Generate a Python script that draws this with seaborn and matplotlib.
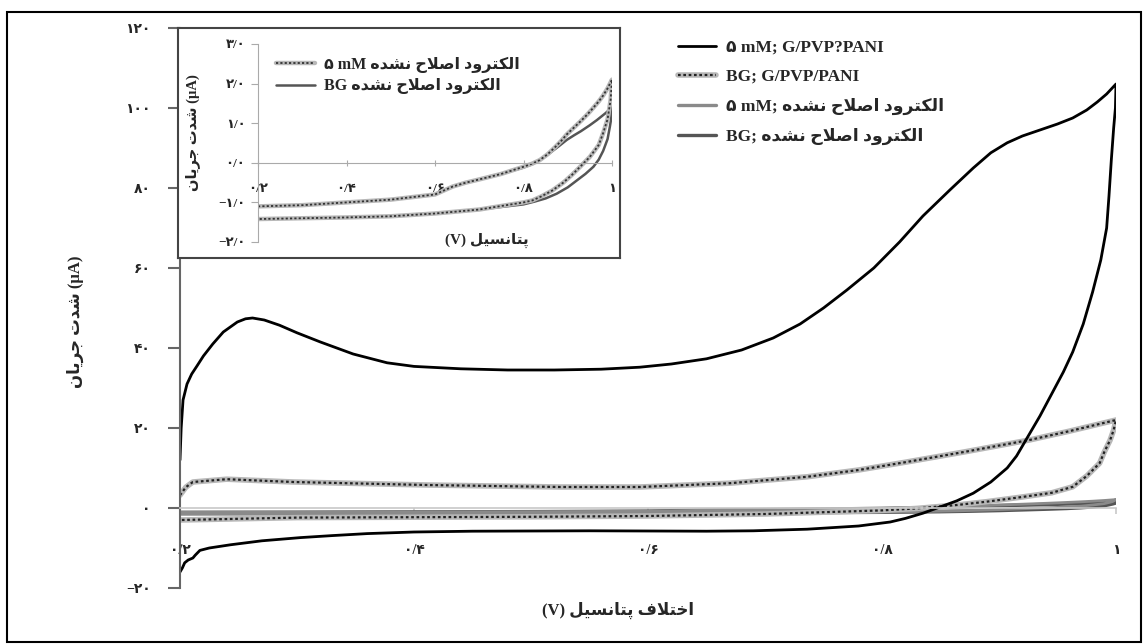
import matplotlib
matplotlib.use("Agg")
import matplotlib.pyplot as plt
import seaborn as sns
import pandas as pd
from matplotlib.lines import Line2D
from matplotlib.patches import Rectangle
from matplotlib.legend_handler import HandlerTuple

# --- data ----------------------------------------------------------------
# 5 mM on G/PVP/PANI (black)
pani5_x_fwd = [0.2, 0.201, 0.2026, 0.206, 0.21, 0.2145, 0.22, 0.228, 0.237, 0.249, 0.256, 0.262,
               0.272, 0.285, 0.30, 0.32, 0.348, 0.377, 0.40, 0.44, 0.48, 0.52, 0.56, 0.593,
               0.62, 0.65, 0.68, 0.707, 0.73, 0.75, 0.77, 0.793, 0.815, 0.835, 0.858, 0.878,
               0.893, 0.907, 0.92, 0.935, 0.95, 0.963, 0.975, 0.984, 0.992, 1.0]
pani5_y_fwd = [12, 20, 27, 31, 33.5, 35.5, 38, 41, 44, 46.5, 47.3, 47.5,
               47, 45.7, 43.8, 41.5, 38.5, 36.3, 35.4, 34.8, 34.5, 34.5, 34.7, 35.2,
               36, 37.3, 39.5, 42.5, 46, 50, 54.5, 60, 66.5, 73, 79.5, 85,
               88.8, 91.3, 93, 94.5, 96, 97.5, 99.5, 101.5, 103.5, 106]
pani5_x_rev = [1.0, 0.9995, 0.998, 0.996, 0.994, 0.992, 0.987, 0.98, 0.972, 0.963, 0.955,
               0.945, 0.935, 0.926, 0.915, 0.907, 0.893, 0.878, 0.864, 0.85, 0.835, 0.82,
               0.807, 0.78, 0.736, 0.69, 0.65, 0.55, 0.45, 0.40, 0.36, 0.33, 0.303, 0.27,
               0.243, 0.225, 0.217, 0.213, 0.211, 0.207, 0.204, 0.202, 0.2]
pani5_y_rev = [106, 100, 95, 87, 78, 70, 62, 54, 46, 39, 34,
               28.5, 23, 18.5, 13, 10, 6.5, 3.7, 1.8, 0.3, -1.3, -2.6,
               -3.5, -4.5, -5.3, -5.7, -5.8, -5.7, -5.8, -6, -6.4, -6.9, -7.4, -8.2,
               -9.2, -10, -10.6, -11.8, -12.5, -13, -13.7, -15, -16]

# background on G/PVP/PANI (hatched)
panibg_x_fwd = [0.2, 0.205, 0.211, 0.24, 0.297, 0.411, 0.525, 0.593, 0.67, 0.736, 0.78, 0.821,
                0.87, 0.926, 0.96, 1.0]
panibg_y_fwd = [3.2, 5.2, 6.5, 7.2, 6.5, 5.75, 5.25, 5.25, 6.2, 7.8, 9.5, 11.5,
                14, 17, 19.2, 22]
panibg_x_rev = [1.0, 0.998, 0.995, 0.99, 0.986, 0.975, 0.963, 0.945, 0.921, 0.89, 0.864, 0.83,
                0.8, 0.7, 0.6, 0.5, 0.4, 0.3, 0.2]
panibg_y_rev = [22, 19.5, 17, 14, 11.2, 8, 5.3, 3.8, 2.8, 1.6, 0.75, -0.1,
                -0.6, -1.5, -2.0, -2.2, -2.3, -2.4, -3.0]

# unmodified electrode, 5 mM
bare5_x_fwd = [0.2, 0.3, 0.4, 0.5, 0.6, 0.62, 0.64, 0.67, 0.7, 0.75, 0.8, 0.82, 0.837, 0.855,
               0.87, 0.885, 0.898, 0.915, 0.93, 0.945, 0.957, 0.97, 0.98, 0.99, 1.0]
bare5_y_fwd = [-1.1, -1.07, -1.0, -0.93, -0.8, -0.7, -0.6, -0.5, -0.42, -0.28, -0.1, -0.02, 0.07,
               0.22, 0.38, 0.55, 0.72, 0.9, 1.06, 1.23, 1.38, 1.55, 1.7, 1.88, 2.1]
bare5_x_rev = [1.0, 0.997, 0.99, 0.98, 0.97, 0.95, 0.928, 0.91, 0.89, 0.865, 0.84, 0.82, 0.8,
               0.7, 0.6, 0.5, 0.4, 0.3, 0.2]
bare5_y_rev = [2.1, 1.6, 1.1, 0.75, 0.45, 0.15, -0.1, -0.3, -0.5, -0.7, -0.85, -0.95, -1.0,
               -1.18, -1.28, -1.35, -1.38, -1.4, -1.42]

# unmodified electrode, background
barebg_x_fwd = [0.2, 0.3, 0.4, 0.5, 0.6, 0.62, 0.64, 0.67, 0.7, 0.75, 0.8, 0.821, 0.84, 0.86,
                0.88, 0.898, 0.915, 0.93, 0.95, 0.966, 0.985, 1.0]
barebg_y_fwd = [-1.1, -1.07, -1.0, -0.93, -0.8, -0.7, -0.6, -0.5, -0.42, -0.28, -0.12, -0.03,
                0.1, 0.25, 0.42, 0.58, 0.7, 0.8, 0.95, 1.08, 1.25, 1.4]
barebg_x_rev = [1.0, 0.998, 0.995, 0.99, 0.98, 0.97, 0.958, 0.94, 0.92, 0.9, 0.875, 0.85, 0.825,
                0.8, 0.7, 0.6, 0.5, 0.4, 0.3, 0.2]
barebg_y_rev = [1.4, 1.1, 0.9, 0.6, 0.3, 0.08, -0.1, -0.28, -0.45, -0.62, -0.78, -0.9, -0.98,
                -1.05, -1.18, -1.28, -1.35, -1.38, -1.4, -1.42]

main_yticks = [-20, 0, 20, 40, 60, 80, 100, 120]
main_yticklabels = ["−۲۰", "۰", "۲۰", "۴۰", "۶۰", "۸۰", "۱۰۰", "۱۲۰"]
xticks = [0.2, 0.4, 0.6, 0.8, 1.0]
xticklabels = ["۰/۲", "۰/۴", "۰/۶", "۰/۸", "۱"]
inset_yticks = [-2, -1, 0, 1, 2, 3]
inset_yticklabels = ["−۲/۰", "−۱/۰", "۰/۰", "۱/۰", "۲/۰", "۳/۰"]

# --- minimal Persian shaping (matplotlib has no complex text layout) ------
FORMS = {
    "ا": ("\uFE8D", "\uFE8E", None, None),
    "پ": ("\uFB56", "\uFB57", "\uFB58", "\uFB59"),
    "ت": ("\uFE95", "\uFE96", "\uFE97", "\uFE98"),
    "ج": ("\uFE9D", "\uFE9E", "\uFE9F", "\uFEA0"),
    "ح": ("\uFEA1", "\uFEA2", "\uFEA3", "\uFEA4"),
    "خ": ("\uFEA5", "\uFEA6", "\uFEA7", "\uFEA8"),
    "د": ("\uFEA9", "\uFEAA", None, None),
    "ر": ("\uFEAD", "\uFEAE", None, None),
    "س": ("\uFEB1", "\uFEB2", "\uFEB3", "\uFEB4"),
    "ش": ("\uFEB5", "\uFEB6", "\uFEB7", "\uFEB8"),
    "ص": ("\uFEB9", "\uFEBA", "\uFEBB", "\uFEBC"),
    "ف": ("\uFED1", "\uFED2", "\uFED3", "\uFED4"),
    "ک": ("\uFB8E", "\uFB8F", "\uFB90", "\uFB91"),
    "ل": ("\uFEDD", "\uFEDE", "\uFEDF", "\uFEE0"),
    "ن": ("\uFEE5", "\uFEE6", "\uFEE7", "\uFEE8"),
    "ه": ("\uFEE9", "\uFEEA", "\uFEEB", "\uFEEC"),
    "و": ("\uFEED", "\uFEEE", None, None),
    "ی": ("\uFBFC", "\uFBFD", "\uFBFE", "\uFBFF"),
}


def fa(text):
    out = []
    i = 0
    while i < len(text):
        c = text[i]
        f = FORMS.get(c)
        if f is None:
            out.append(c)
            i += 1
            continue
        prev = text[i - 1] if i > 0 else None
        joins_prev = prev in FORMS and FORMS[prev][2] is not None
        if c == "ل" and i + 1 < len(text) and text[i + 1] == "ا":
            out.append("\uFEFC" if joins_prev else "\uFEFB")
            i += 2
            continue
        nxt = text[i + 1] if i + 1 < len(text) else None
        joins_next = f[2] is not None and nxt in FORMS
        if joins_prev and joins_next:
            out.append(f[3])
        elif joins_prev:
            out.append(f[1])
        elif joins_next:
            out.append(f[2])
        else:
            out.append(f[0])
        i += 1
    return "".join(out)[::-1]


bare = fa("الکترود اصلاح نشده")
ylab = fa("شدت جریان") + " (µA)"

sns.set_style("white")
plt.rcParams["font.family"] = ["Liberation Serif", "DejaVu Sans"]
plt.rcParams["font.weight"] = "bold"

W, H = 1147, 644
fig = plt.figure(figsize=(W / 100, H / 100), dpi=100)


def fx(px):
    return px / W


def fy(py):
    return 1 - py / H


def loop(xf, yf, xr, yr):
    return pd.DataFrame({"x": xf + xr, "y": yf + yr})


HATCH_GRAY = "#b8b8b8"
hatch_dash = (0, (1.2, 1.2))

# --- main axes -------------------------------------------------------------
ax = fig.add_axes([fx(180), fy(588), fx(1116) - fx(180), fy(28) - fy(588)])
ax.set_xlim(0.2, 1.0)
ax.set_ylim(-20, 120)

d = loop(barebg_x_fwd, barebg_y_fwd, barebg_x_rev, barebg_y_rev)
sns.lineplot(data=d, x="x", y="y", sort=False, estimator=None, color="#555555", lw=2.6, ax=ax)
d = loop(bare5_x_fwd, bare5_y_fwd, bare5_x_rev, bare5_y_rev)
sns.lineplot(data=d, x="x", y="y", sort=False, estimator=None, color="#8a8a8a", lw=2.0, ax=ax)
d = loop(panibg_x_fwd, panibg_y_fwd, panibg_x_rev, panibg_y_rev)
sns.lineplot(data=d, x="x", y="y", sort=False, estimator=None, color=HATCH_GRAY, lw=4, ax=ax)
sns.lineplot(data=d, x="x", y="y", sort=False, estimator=None, color="#222222", lw=1.6,
             linestyle=hatch_dash, ax=ax)
d = loop(pani5_x_fwd, pani5_y_fwd, pani5_x_rev, pani5_y_rev)
sns.lineplot(data=d, x="x", y="y", sort=False, estimator=None, color="black", lw=2.0, ax=ax)

for s in ["top", "right"]:
    ax.spines[s].set_visible(False)
ax.spines["left"].set_color("#666666")
ax.spines["left"].set_linewidth(1.5)
ax.spines["bottom"].set_position(("data", 0))
ax.spines["bottom"].set_color("#c8c8c8")
ax.spines["bottom"].set_linewidth(1.2)
ax.set_yticks(main_yticks, main_yticklabels)
ax.set_xticks(xticks, xticklabels)
ax.tick_params(axis="y", left=True, length=9, width=1.5, color="#666666", pad=12,
               labelsize=10)
ax.tick_params(axis="x", bottom=True, length=4, width=1.2, color="#c8c8c8", pad=22,
               labelsize=10)
for t in ax.get_xticklabels():
    t.set_bbox(dict(facecolor="white", edgecolor="none", pad=1.5))
    t.set_zorder(5)
ax.set_xlabel("")
ax.set_ylabel("")

fig.text(fx(75), fy(322), ylab, rotation=90, ha="center", va="center", fontsize=12,
         fontweight="bold")
fig.text(fx(618), fy(610), "(V) " + fa("اختلاف پتانسیل"), ha="center", va="center",
         fontsize=12, fontweight="bold")

handles = [
    Line2D([], [], color="black", lw=2.0),
    (Line2D([], [], color=HATCH_GRAY, lw=4), Line2D([], [], color="#222222", lw=1.6, ls=hatch_dash)),
    Line2D([], [], color="#8a8a8a", lw=2.4),
    Line2D([], [], color="#555555", lw=2.4),
]
labels = ["۵ mM; G/PVP?PANI", "BG; G/PVP/PANI", "۵ mM; " + bare, "BG; " + bare]
fig.legend(handles, labels, loc="upper left", bbox_to_anchor=(fx(662), fy(24)),
           frameon=False, handlelength=2.2, handletextpad=0.6,
           labelspacing=0.75, handler_map={tuple: HandlerTuple(ndivide=1)},
           prop={"weight": "bold", "size": 12.5})

# --- inset -----------------------------------------------------------------
box = fig.add_axes([fx(178), fy(258), fx(620) - fx(178), fy(28) - fy(258)])
box.set_xticks([])
box.set_yticks([])
box.set_facecolor("white")
for s in box.spines.values():
    s.set_color("#444444")
    s.set_linewidth(1.5)

ins = fig.add_axes([fx(258), fy(242), fx(612) - fx(258), fy(44) - fy(242)])
ins.patch.set_alpha(0)
ins.set_xlim(0.2, 1.0)
ins.set_ylim(-2, 3)
d = loop(barebg_x_fwd, barebg_y_fwd, barebg_x_rev, barebg_y_rev)
sns.lineplot(data=d, x="x", y="y", sort=False, estimator=None, color="#555555", lw=1.8, ax=ins)
d = loop(bare5_x_fwd, bare5_y_fwd, bare5_x_rev, bare5_y_rev)
sns.lineplot(data=d, x="x", y="y", sort=False, estimator=None, color=HATCH_GRAY, lw=3.2, ax=ins)
sns.lineplot(data=d, x="x", y="y", sort=False, estimator=None, color="#333333", lw=1.3,
             linestyle=hatch_dash, ax=ins)
for s in ["top", "right"]:
    ins.spines[s].set_visible(False)
ins.spines["left"].set_color("#aaaaaa")
ins.spines["bottom"].set_position(("data", 0))
ins.spines["bottom"].set_color("#aaaaaa")
ins.set_yticks(inset_yticks, inset_yticklabels)
ins.set_xticks(xticks, xticklabels)
ins.tick_params(axis="y", left=True, length=5, color="#aaaaaa", pad=4, labelsize=9.5)
ins.tick_params(axis="x", bottom=True, direction="inout", length=5, color="#aaaaaa",
                pad=12, labelsize=9.5)
for t in ins.get_xticklabels():
    t.set_bbox(dict(facecolor="white", edgecolor="none", pad=1.5))
ins.set_xlabel("")
ins.set_ylabel("")
fig.text(fx(193), fy(133), ylab, rotation=90, ha="center", va="center", fontsize=10.5,
         fontweight="bold")
fig.text(fx(487), fy(240), "(V) " + fa("پتانسیل"), ha="center", va="center",
         fontsize=11, fontweight="bold")

ih = [
    (Line2D([], [], color=HATCH_GRAY, lw=3.2), Line2D([], [], color="#333333", lw=1.3, ls=hatch_dash)),
    Line2D([], [], color="#555555", lw=1.8),
]
il = ["۵ mM " + bare, "BG " + bare]
ins.legend(ih, il, loc="upper left", bbox_to_anchor=(fx(262), fy(42)),
           bbox_transform=fig.transFigure, frameon=False, handlelength=2.4,
           handletextpad=0.6, labelspacing=0.35, handler_map={tuple: HandlerTuple(ndivide=1)},
           prop={"weight": "bold", "size": 11.5})

# outer frame
fig.patches.append(Rectangle((fx(7), fy(642)), fx(1141) - fx(7), fy(12) - fy(642),
                             transform=fig.transFigure, fill=False, edgecolor="black", lw=1.5))

fig.savefig("out.png", dpi=100)
